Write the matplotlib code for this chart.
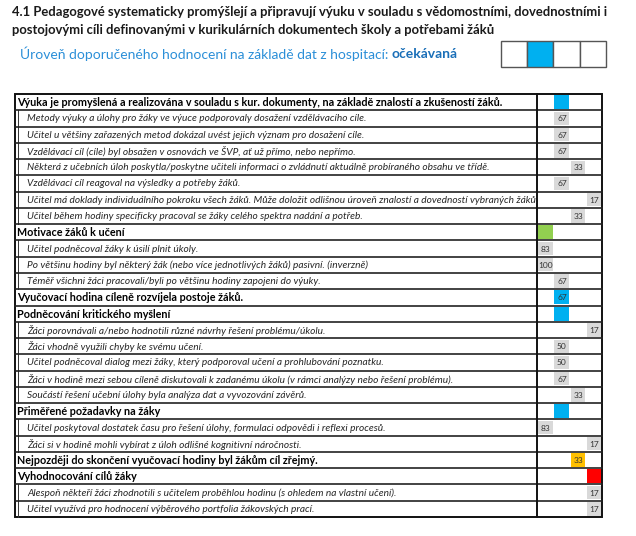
import matplotlib
matplotlib.use("Agg")
import matplotlib.pyplot as plt
from matplotlib.patches import Rectangle

plt.rcParams['font.family'] = ['Lato', 'DejaVu Sans']

# --- data ---
title_lines = [
    "4.1 Pedagogové systematicky promýšlejí a připravují výuku v souladu s vědomostními, dovednostními i",
    "postojovými cíli definovanými v kurikulárních dokumentech školy a potřebami žáků",
]
level_label = "Úroveň doporučeného hodnocení na základě dat z hospitací: "
level_name = "očekávaná"
level_index = 1  # 0..3, highlighted box

row_texts = [
    "Výuka je promyšlená a realizována v souladu s kur. dokumenty, na základě znalostí a zkušeností žáků.",
    "Metody výuky a úlohy pro žáky ve výuce podporovaly dosažení vzdělávacího cíle.",
    "Učitel u většiny zařazených metod dokázal uvést jejich význam pro dosažení cíle.",
    "Vzdělávací cíl (cíle) byl obsažen v osnovách ve ŠVP, ať už přímo, nebo nepřímo.",
    "Některá z učebních úloh poskytla/poskytne učiteli informaci o zvládnutí aktuálně probíraného obsahu ve třídě.",
    "Vzdělávací cíl reagoval na výsledky a potřeby žáků.",
    "Učitel má doklady individuálního pokroku všech žáků. Může doložit odlišnou úroveň znalostí a dovedností vybraných žáků.",
    "Učitel během hodiny specificky pracoval se žáky celého spektra nadání a potřeb.",
    "Motivace žáků k učení",
    "Učitel podněcoval žáky k úsilí plnit úkoly.",
    "Po většinu hodiny byl některý žák (nebo více jednotlivých žáků) pasivní. (inverzně)",
    "Téměř všichni žáci pracovali/byli po většinu hodiny zapojeni do výuky.",
    "Vyučovací hodina cíleně rozvíjela postoje žáků.",
    "Podněcování kritického myšlení",
    "Žáci porovnávali a/nebo hodnotili různé návrhy řešení problému/úkolu.",
    "Žáci vhodně využili chyby ke svému učení.",
    "Učitel podněcoval dialog mezi žáky, který podporoval učení a prohlubování poznatku.",
    "Žáci v hodině mezi sebou cíleně diskutovali k zadanému úkolu (v rámci analýzy nebo řešení problému).",
    "Součástí řešení učební úlohy byla analýza dat a vyvozování závěrů.",
    "Přiměřené požadavky na žáky",
    "Učitel poskytoval dostatek času pro řešení úlohy, formulaci odpovědi i reflexi procesů.",
    "Žáci si v hodině mohli vybírat z úloh odlišné kognitivní náročnosti.",
    "Nejpozději do skončení vyučovací hodiny byl žákům cíl zřejmý.",
    "Vyhodnocování cílů žáky",
    "Alespoň někteří žáci zhodnotili s učitelem proběhlou hodinu (s ohledem na vlastní učení).",
    "Učitel využívá pro hodnocení výběrového portfolia žákovských prací.",
]
is_header = [True, False, False, False, False, False, False, False,
             True, False, False, False,
             True,
             True, False, False, False, False, False,
             True, False, False,
             True,
             True, False, False]
values = [None, 67, 67, 67, 33, 67, 17, 33,
          None, 83, 100, 67,
          67,
          None, 17, 50, 50, 67, 33,
          None, 83, 17,
          33,
          None, 17, 17]
# column (0..3) of each value mark
columns = [1, 1, 1, 1, 2, 1, 3, 2,
           0, 0, 0, 1,
           1,
           1, 3, 1, 1, 1, 2,
           1, 0, 3,
           2,
           3, 3, 3]
header_colors = {0: "#00b0f0", 8: "#92d050", 12: "#00b0f0", 13: "#00b0f0",
                 19: "#00b0f0", 22: "#ffc000", 23: "#ff0000"}

# --- figure ---
W, H = 636, 536
fig = plt.figure(figsize=(W / 100, H / 100), dpi=100)
ax = fig.add_axes([0, 0, 1, 1])
ax.set_xlim(0, W)
ax.set_ylim(H, 0)
ax.axis("off")

# title
ax.text(12, 12, title_lines[0], fontsize=9.4, fontweight="bold", va="center", ha="left", color="#1a1a1a")
ax.text(12, 30, title_lines[1], fontsize=9.4, fontweight="bold", va="center", ha="left", color="#1a1a1a")

# level line
t1 = ax.text(20, 54, level_label, fontsize=10.0, va="center", ha="left", color="#2b8fd8")
fig.canvas.draw()
bb = t1.get_window_extent()
ax.text(20 + bb.width, 54, level_name, fontsize=10.0, fontweight="bold", va="center", ha="left", color="#1a6fb8")

box_x0, box_w = 501, 26.2
for i in range(4):
    fc = "#00b0f0" if i == level_index else "white"
    ax.add_patch(Rectangle((box_x0 + i * box_w, 41), box_w, 26, facecolor=fc,
                           edgecolor="#555555", lw=1.0))

# table
top, bottom = 94, 517
left, sep, right = 15, 537, 602
n = len(row_texts)
rh = (bottom - top) / n
sub_w = (right - sep) / 4

for i, txt in enumerate(row_texts):
    y0 = top + i * rh
    yc = y0 + rh / 2 + 0.5
    if is_header[i]:
        ax.text(left + 2, yc, txt, fontsize=7.75, fontweight="bold", va="center", ha="left", color="black")
    else:
        ax.text(left + 12, yc, txt, fontsize=7.25, fontstyle="italic", va="center", ha="left", color="#262626")
        ax.plot([left + 2.5, left + 2.5], [y0, y0 + rh], color="#333333", lw=0.7)
    col = columns[i]
    cx = sep + col * sub_w
    if i in header_colors:
        ax.add_patch(Rectangle((cx + 1, y0 + 1.2), sub_w - 1.5, rh - 2.4,
                               facecolor=header_colors[i], edgecolor="none"))
    elif values[i] is not None:
        ax.add_patch(Rectangle((cx + 1, y0 + 1.5), sub_w - 1.5, rh - 3,
                               facecolor="#d9d9d9", edgecolor="none"))
    if values[i] is not None:
        ax.text(cx + sub_w / 2 + 0.5, yc, str(values[i]), fontsize=6.0, va="center", ha="center", color="#333333")
    if i > 0:
        ax.plot([left, right], [y0, y0], color="#222222", lw=1.2)

ax.add_patch(Rectangle((left, top), right - left, bottom - top, facecolor="none",
                       edgecolor="#111111", lw=1.4))
ax.plot([sep, sep], [top, bottom], color="#111111", lw=1.4)

fig.savefig("out.png", dpi=100)
